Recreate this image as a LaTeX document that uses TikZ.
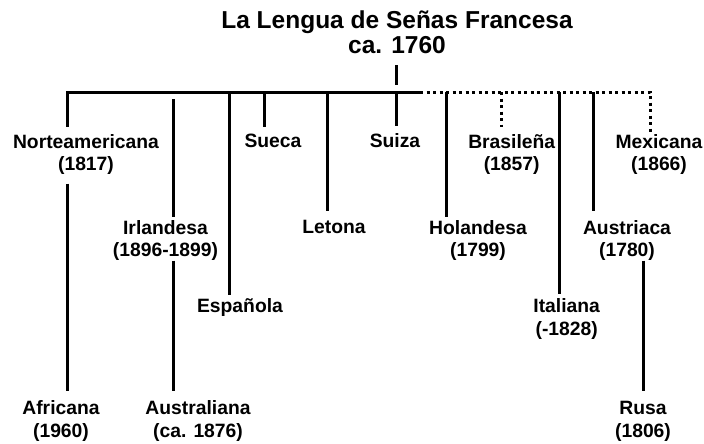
\documentclass[tikz,border=0pt]{standalone}
\usepackage{fontspec}
\setmainfont{Liberation Sans}
\tikzset{
    lang/.style={font=\bfseries\fontsize{19.3}{22.5}\selectfont, align=center, inner sep=0pt, anchor=base},
    branch/.style={line width=3pt},
    dotbranch/.style={line width=3pt, dash pattern=on 3pt off 3.5pt},
}

\begin{document}
\begin{tikzpicture}[x=1pt, y=-1pt]
    \useasboundingbox (0,0) rectangle (704,444);

    % Root (base is the last line)
    \node[lang, font=\bfseries\fontsize{24.5}{25}\selectfont] (lsf) at (397,53.6)
        {La Lengua de Señas Francesa\\ca. 1760};

    % Points on the bar
    \foreach \n/\x in {nor/67.7, irl/173.3, esp/229.3, sue/264, let/327.3, sui/396.7,
                       mid/420, hol/446.7, bra/501.7, ita/559, aus/593.3, mex/650} {
        \coordinate (b-\n) at (\x,92);
    }

    % Languages
    \node[lang] (nor) at (86,170.5) {Norteamericana\\(1817)};
    \node[lang] (sue) at (273,147.5) {Sueca};
    \node[lang] (sui) at (395,147.5) {Suiza};
    \node[lang] (bra) at (511.7,170.5) {Brasileña\\(1857)};
    \node[lang] (mex) at (659,170.5) {Mexicana\\(1866)};
    \node[lang] (irl) at (165.5,256.5) {Irlandesa\\(1896-1899)};
    \node[lang] (let) at (334,233.5) {Letona};
    \node[lang] (hol) at (478,256.5) {Holandesa\\(1799)};
    \node[lang] (aus) at (627,256.5) {Austriaca\\(1780)};
    \node[lang] (esp) at (240,312.5) {Española};
    \node[lang] (ita) at (566.7,335) {Italiana\\(-1828)};
    \node[lang] (afr) at (61,437) {Africana\\(1960)};
    \node[lang] (ast) at (198,437) {Australiana\\(ca. 1876)};
    \node[lang] (rus) at (643,437) {Rusa\\(1806)};

    % Bar and branches
    \draw[branch, shorten <=11pt, shorten >=7pt] (lsf.south -| b-sui) -- (b-sui);
    \draw[branch, shorten >=7pt] (b-mid) -- (b-nor) -- (b-nor |- nor.north);
    \draw[dotbranch, shorten >=2pt] (b-mid) -- (b-mex) -- (b-mex |- mex.north);
    \draw[dotbranch, shorten >=7pt] (b-bra) -- (b-bra |- bra.north);
    \foreach \n/\g in {sue/7, sui/7, let/9, hol/3, esp/3, ita/4, aus/9} {
        \draw[branch, shorten >=\g pt] (b-\n) -- (b-\n |- \n.north);
    }
    \draw[branch, shorten <=7pt, shorten >=3pt] (b-irl) -- (b-irl |- irl.north);

    % Second generation
    \draw[branch, shorten <=9pt, shorten >=9.5pt] (b-nor |- nor.south) -- (b-nor |- afr.north);
    \draw[branch, shorten >=9pt] (b-irl |- irl.south) -- (b-irl |- ast.north);
    \draw[branch, shorten >=10pt] (rus |- aus.south) -- (rus.north);
\end{tikzpicture}
\end{document}
